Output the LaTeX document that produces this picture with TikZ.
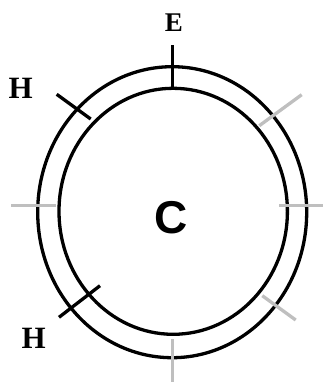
\documentclass[tikz,border=0pt]{standalone}
\usepackage{fontspec}
\setmainfont{Liberation Serif}
\newfontfamily\sansbold{Liberation Sans}[BoldFont={Liberation Sans Bold}]
\begin{document}
\begin{tikzpicture}[x=1pt,y=-1pt,
  ring/.style={draw=black,line width=3.3pt},
  blacktick/.style={draw=black,line width=3.3pt},
  graytick/.style={draw=black!25,line width=3.3pt},
  lbl/.style={inner sep=0pt,anchor=base,font=\bfseries\fontsize{31}{31}\selectfont},
  ]
\useasboundingbox (0,0) rectangle (323,383);
\draw[ring] (172.2,212.2) ellipse [x radius=134.5pt, y radius=145.5pt];
\draw[ring] (173.2,211.3) ellipse [x radius=114.2pt, y radius=123pt];
% black ticks
\coordinate (e1) at (172.3,45);
\coordinate (e2) at (172.3,88.5);
\coordinate (h1a) at (56.7,94.3);
\coordinate (h1b) at (90.7,119);
\coordinate (h2a) at (59,317.3);
\coordinate (h2b) at (100,285.7);
\draw[blacktick] (e1) -- (e2);
\draw[blacktick] (h1a) -- (h1b);
\draw[blacktick] (h2a) -- (h2b);
% gray ticks
\coordinate (g1a) at (11,205.7);
\coordinate (g1b) at (55.7,205.7);
\coordinate (g2a) at (279.3,205.7);
\coordinate (g2b) at (322.7,205.7);
\coordinate (g3a) at (172.3,339);
\coordinate (g3b) at (172.3,382.3);
\coordinate (g4a) at (259.3,125.7);
\coordinate (g4b) at (301.7,94.7);
\coordinate (g5a) at (262.3,295.7);
\coordinate (g5b) at (295.7,320);
\draw[graytick] (g1a) -- (g1b);
\draw[graytick] (g2a) -- (g2b);
\draw[graytick] (g3a) -- (g3b);
\draw[graytick] (g4a) -- (g4b);
\draw[graytick] (g5a) -- (g5b);
% labels
\node[lbl,font=\bfseries\fontsize{27}{27}\selectfont] (E) at (174,31) {E};
\node[lbl] (H1) at (20.7,98.3) {H};
\node[lbl] (H2) at (33.8,348.3) {H};
\node[lbl,font=\sansbold\bfseries\fontsize{46}{46}\selectfont] (C) at (170.7,233) {C};
\end{tikzpicture}
\end{document}
